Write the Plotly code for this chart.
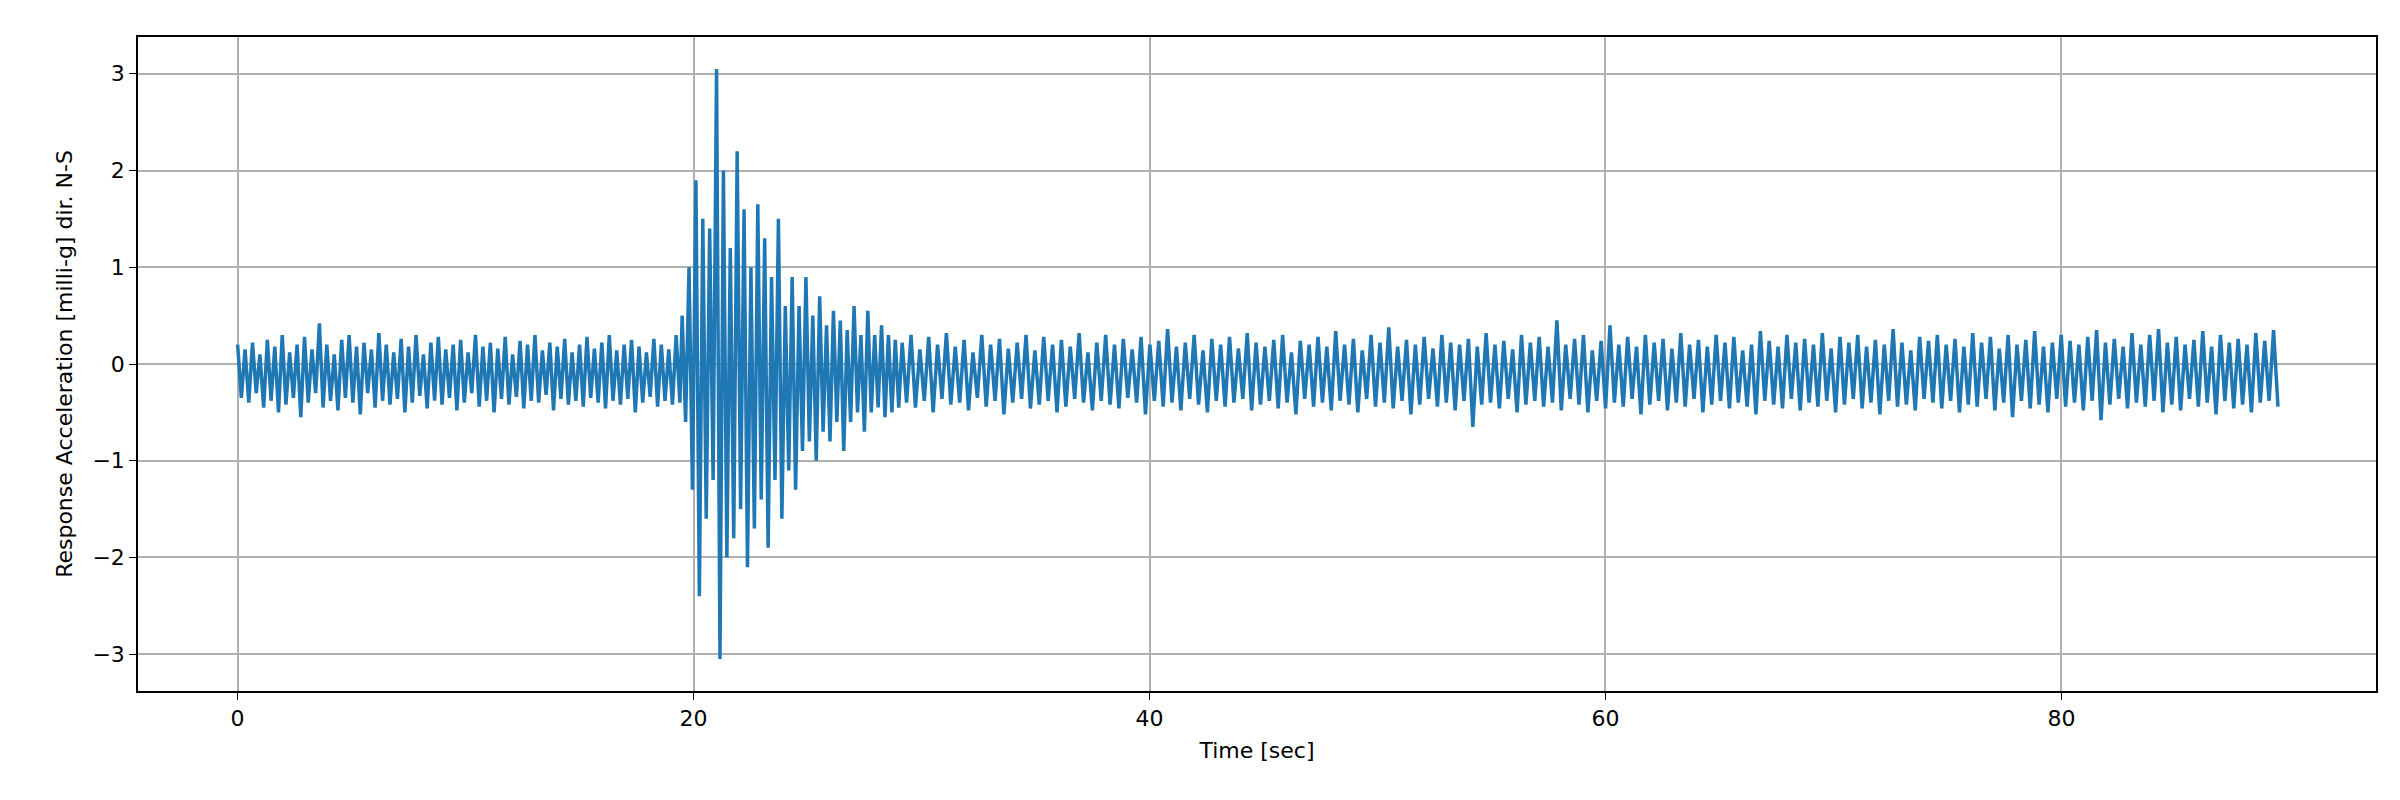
import numpy as np
import plotly.graph_objects as go

pre_vals = [0.2,-0.35,0.15,-0.4,0.22,-0.3,0.1,-0.45,0.25,-0.38,0.18,-0.5,0.3,-0.42,0.12,-0.35,0.2,-0.55,0.28,-0.4,
0.15,-0.3,0.42,-0.45,0.2,-0.38,0.1,-0.48,0.25,-0.35,0.3,-0.4,0.18,-0.52,0.22,-0.3,0.15,-0.45,0.32,-0.38,
0.2,-0.42,0.12,-0.36,0.26,-0.5,0.18,-0.4,0.3,-0.33,0.1,-0.46,0.22,-0.38,0.28,-0.42,0.15,-0.35,0.2,-0.48,
0.25,-0.4,0.12,-0.3,0.3,-0.44,0.18,-0.38,0.22,-0.5,0.16,-0.36,0.28,-0.42,0.1,-0.34,0.24,-0.46,0.2,-0.38,
0.3,-0.4,0.14,-0.32,0.22,-0.48,0.18,-0.36,0.26,-0.42,0.12,-0.38,0.2,-0.44,0.28,-0.35,0.16,-0.4,0.22,-0.46,
0.3,-0.38,0.14,-0.42,0.2,-0.36,0.25,-0.5,0.18,-0.4,0.12,-0.34,0.26,-0.44,0.2,-0.38,0.15,-0.42,0.3,-0.4]

event_vals = [0.5,-0.6,1.0,-1.3,1.9,-2.4,1.5,-1.6,1.4,-1.2,3.05,-3.05,2.0,-2.0,1.2,-1.8,2.2,-1.5,1.6,-2.1,
1.0,-1.7,1.65,-1.4,1.3,-1.9,0.9,-1.2,1.5,-1.6,0.6,-1.1,0.9,-1.3,0.6,-0.9,0.9,-0.8,0.5,-1.0,
0.7,-0.7,0.4,-0.8,0.55,-0.6,0.45,-0.9,0.35,-0.6,0.6,-0.5,0.3,-0.7,0.55,-0.5,0.3,-0.45,0.4,-0.55,
0.3,-0.5,0.25,-0.45]

post_vals = [0.22,-0.4,0.3,-0.45,0.15,-0.38,0.28,-0.5,0.2,-0.36,0.32,-0.42,
0.18,-0.4,0.25,-0.48,0.12,-0.35,0.3,-0.44,0.2,-0.38,0.26,-0.52,
0.16,-0.4,0.22,-0.36,0.3,-0.46,0.14,-0.42,0.28,-0.38,0.2,-0.5,
0.25,-0.44,0.18,-0.36,0.32,-0.4,0.12,-0.48,0.22,-0.38,0.3,-0.42,
0.2,-0.46,0.26,-0.35,0.15,-0.4,0.28,-0.52,0.2,-0.38,0.24,-0.44,
0.36,-0.4,0.18,-0.48,0.22,-0.36,0.3,-0.42,0.14,-0.5,0.26,-0.38,
0.2,-0.44,0.28,-0.4,0.16,-0.36,0.32,-0.48,0.22,-0.42,0.18,-0.38,
0.25,-0.46,0.3,-0.4,0.12,-0.52,0.24,-0.36,0.2,-0.44,0.28,-0.4,
0.18,-0.48,0.34,-0.38,0.2,-0.42,0.26,-0.5,0.14,-0.36,0.3,-0.44,
0.22,-0.4,0.38,-0.46,0.18,-0.38,0.25,-0.52,0.2,-0.42,0.28,-0.36,
0.16,-0.44,0.3,-0.4,0.22,-0.48,0.2,-0.38,0.26,-0.65,0.18,-0.42,
0.32,-0.4,0.2,-0.46,0.24,-0.36,0.15,-0.5,0.3,-0.42,0.22,-0.38,
0.28,-0.44,0.18,-0.4,0.45,-0.48,0.2,-0.36,0.26,-0.42,0.3,-0.5,
0.14,-0.38,0.24,-0.46,0.4,-0.4,0.2,-0.44,0.28,-0.36,0.18,-0.52,
0.3,-0.42,0.22,-0.38,0.26,-0.48,0.16,-0.4,0.32,-0.44,0.2,-0.36,
0.25,-0.5,0.18,-0.42,0.3,-0.38,0.22,-0.46,0.28,-0.4,0.14,-0.44,
0.2,-0.52,0.34,-0.38,0.24,-0.42,0.18,-0.46,0.3,-0.36,0.22,-0.48,
0.26,-0.4,0.2,-0.44,0.32,-0.38,0.16,-0.5,0.28,-0.42,0.22,-0.36,
0.3,-0.46,0.18,-0.4,0.25,-0.52,0.2,-0.38,0.36,-0.44,0.22,-0.42,
0.14,-0.48,0.28,-0.36,0.24,-0.4,0.3,-0.46,0.2,-0.38,0.26,-0.5,
0.18,-0.42,0.32,-0.44,0.22,-0.36,0.28,-0.48,0.16,-0.4,0.3,-0.55,
0.2,-0.38,0.25,-0.46,0.34,-0.42,0.18,-0.5,0.22,-0.36,0.3,-0.44,
0.24,-0.4,0.2,-0.48,0.28,-0.38,0.35,-0.58,0.22,-0.42,0.26,-0.36,
0.18,-0.46,0.32,-0.4,0.2,-0.44,0.3,-0.38,0.36,-0.5,0.22,-0.42,
0.28,-0.48,0.2,-0.36,0.25,-0.44,0.34,-0.4,0.18,-0.52,0.3,-0.38,
0.22,-0.46,0.26,-0.42,0.2,-0.5,0.32,-0.4,0.24,-0.38,0.35,-0.44]

t_pre = np.linspace(0, 19.4, len(pre_vals))
t_event = np.linspace(19.5, 29.0, len(event_vals))
t_post = np.linspace(29.15, 89.5, len(post_vals))
t = np.concatenate([t_pre, t_event, t_post])
y = pre_vals + event_vals + post_vals

fig = go.Figure(go.Scatter(x=t, y=y, mode="lines", line=dict(color="#1f77b4", width=3.5)))
ax = dict(showline=True, linecolor="black", linewidth=1.5, mirror=True, ticks="outside",
          ticklen=7, tickcolor="black", showgrid=True, gridcolor="#b0b0b0", gridwidth=1.5,
          zeroline=False, tickfont=dict(size=22, color="black"))
fig.update_layout(
    width=2400, height=800, plot_bgcolor="white", paper_bgcolor="white",
    margin=dict(l=130, r=32, t=29, b=117), showlegend=False,
    font=dict(family="DejaVu Sans", size=22, color="black"),
    xaxis=dict(ax, range=[-4.37, 93.8], tickvals=[0, 20, 40, 60, 80],
               title=dict(text="Time [sec]", font=dict(size=22), standoff=12)),
    yaxis=dict(ax, range=[-3.38, 3.38], tickvals=[-3, -2, -1, 0, 1, 2, 3],
               ticktext=["−3", "−2", "−1", "0", "1", "2", "3"],
               title=dict(text="Response Acceleration [milli-g] dir. N-S", font=dict(size=22), standoff=14)),
)
fig.write_html("out.html")
